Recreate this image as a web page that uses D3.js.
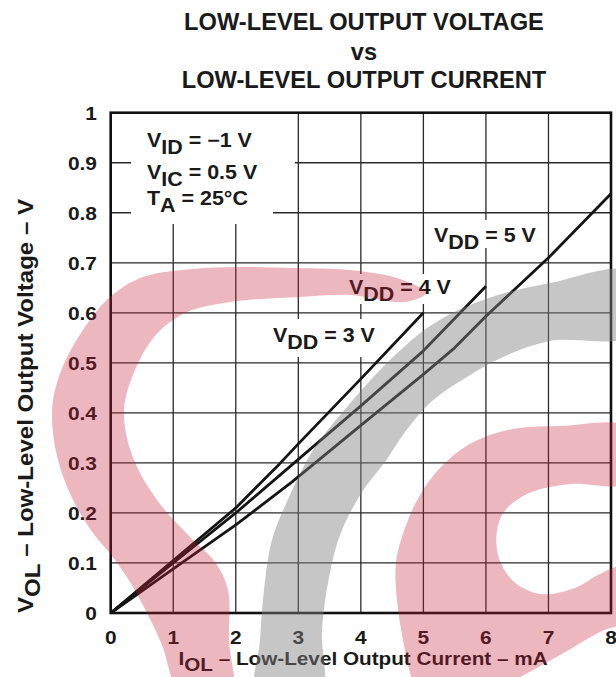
<!DOCTYPE html>
<html>
<head>
<meta charset="utf-8">
<script src="https://cdn.jsdelivr.net/npm/d3@7/dist/d3.min.js"></script>
<style>
  html, body { margin: 0; padding: 0; background: #fff; }
  svg { display: block; }
  text { font-family: "Liberation Sans", Arial, Helvetica, sans-serif; font-weight: bold; fill: #1a1a1a; }
</style>
</head>
<body>
<svg id="chart" width="616" height="677"></svg>
<script>
// ---- data ----
const xTicks = [0, 1, 2, 3, 4, 5, 6, 7, 8];
const yTicks = [0, 0.1, 0.2, 0.3, 0.4, 0.5, 0.6, 0.7, 0.8, 0.9, 1];
const yTickLabels = ["0", "0.1", "0.2", "0.3", "0.4", "0.5", "0.6", "0.7", "0.8", "0.9", "1"];
const seriesNames = ["VDD = 3 V", "VDD = 4 V", "VDD = 5 V"];
const iol3 = [0, 1, 2, 2.7, 3, 4, 5];
const vol3 = [0, 0.105, 0.21, 0.298, 0.338, 0.468, 0.6];
const iol4 = [0, 1, 2, 3, 4, 5, 6];
const vol4 = [0, 0.1, 0.2, 0.307, 0.414, 0.524, 0.653];
const iol5 = [0, 1, 2, 2.9, 4, 5, 5.5, 6, 7, 8];
const vol5 = [0, 0.088, 0.176, 0.262, 0.375, 0.477, 0.53, 0.593, 0.71, 0.838];
const titleLines = ["LOW-LEVEL OUTPUT VOLTAGE", "vs", "LOW-LEVEL OUTPUT CURRENT"];

const svg = d3.select("#chart");
const x = d3.scaleLinear().domain([0, 8]).range([110.7, 611]);
const y = d3.scaleLinear().domain([0, 1]).range([613, 112.7]);

// text helper: parts = [[text, isSub], ...]
function addText(g, px, py, parts, opt) {
  const size = opt.size || 20, sx = opt.sx || 1, rot = opt.rot || 0;
  const t = g.append("text")
    .attr("transform", `translate(${px},${py}) rotate(${rot}) scale(${sx},1)`)
    .attr("text-anchor", opt.anchor || "start")
    .style("font-size", size + "px");
  let sub = false;
  parts.forEach(([s, isSub]) => {
    const ts = t.append("tspan").text(s);
    if (isSub && !sub) ts.attr("dy", opt.subDy || 7);
    if (!isSub && sub) ts.attr("dy", -(opt.subDy || 7));
    sub = isSub;
  });
  return t;
}

// ---- title ----
const titleY = [30, 60, 88];
titleLines.forEach((s, i) => addText(svg, 364, titleY[i], [[s, false]], { size: 23, anchor: "middle", sx: 1.03 }));

// ---- grid ----
const grid = svg.append("g").attr("stroke", "#2a2a2a").attr("stroke-width", 1.3);
grid.selectAll("line.h").data(yTicks.slice(1, -1)).join("line")
  .attr("x1", x(0)).attr("x2", x(8)).attr("y1", d => y(d)).attr("y2", d => y(d));
grid.selectAll("line.v").data(xTicks.slice(1, -1)).join("line")
  .attr("y1", y(0)).attr("y2", y(1)).attr("x1", d => x(d)).attr("x2", d => x(d));

// white label backgrounds (break the grid)
const bg = svg.append("g").attr("fill", "#fff");
bg.append("rect").attr("x", 131).attr("y", 114).attr("width", 164).attr("height", 80);
bg.append("rect").attr("x", 131).attr("y", 190).attr("width", 142).attr("height", 34);
bg.append("rect").attr("x", 430).attr("y", 220).attr("width", 108).attr("height", 28);
bg.append("rect").attr("x", 345).attr("y", 274).attr("width", 106).attr("height", 30);
bg.append("rect").attr("x", 268).attr("y", 319).attr("width", 108).attr("height", 38);

// ---- curves ----
const line = d3.line().x(d => x(d[0])).y(d => y(d[1]));
const curves = [d3.zip(iol3, vol3), d3.zip(iol4, vol4), d3.zip(iol5, vol5)];
svg.append("g").selectAll("path").data(curves).join("path")
  .attr("d", line).attr("fill", "none").attr("stroke", "#151515")
  .attr("stroke-width", 2.8).attr("stroke-linejoin", "round");

// ---- frame ----
svg.append("rect").attr("x", x(0)).attr("y", y(1)).attr("width", x(8) - x(0)).attr("height", y(0) - y(1))
  .attr("fill", "none").attr("stroke", "#111").attr("stroke-width", 2.6);

// ---- tick labels ----
const tl = svg.append("g");
yTicks.forEach((v, i) => addText(tl, 97, y(v) + 7, [[yTickLabels[i], false]], { size: 19, anchor: "end", sx: 1.1 }));
xTicks.forEach(v => addText(tl, x(v), 644, [[String(v), false]], { size: 19, anchor: "middle", sx: 1.1 }));

// ---- axis titles ----
addText(svg, 363, 665, [["I", false], ["OL", true], [" \u2013 Low-Level Output Current \u2013 mA", false]], { size: 18.5, anchor: "middle", sx: 1.12, subDy: 6 });
addText(svg, 33, 406, [["V", false], ["OL", true], [" \u2013 Low-Level Output Voltage \u2013 V", false]], { size: 21.5, anchor: "middle", rot: -90, sx: 1.12 });

// ---- annotations ----
const ann = svg.append("g");
addText(ann, 147, 146.7, [["V", false], ["ID", true], [" = \u22121 V", false]], { size: 19.5, sx: 1.1 });
addText(ann, 147, 179.3, [["V", false], ["IC", true], [" = 0.5 V", false]], { size: 19.5, sx: 1.1 });
addText(ann, 147, 205, [["T", false], ["A", true], [" = 25\u00B0C", false]], { size: 19.5, sx: 1.1 });
const labPos = [[273, 341.7], [349, 294.3], [434, 241.7]];
seriesNames.forEach((s, i) => addText(ann, labPos[i][0], labPos[i][1],
  [["V", false], ["DD", true], [s.slice(3), false]], { size: 19.5, sx: 1.1 }));

// ---- watermark overlay ----
const wm = svg.append("g").attr("pointer-events", "none");
const shape = d3.line().curve(d3.curveCatmullRomClosed.alpha(0.5));
const pinkHook = [[426,293],[400,279],[350,270],[293,268],[237,267],[193,269],[143,277],[110,297],[83,330],[63,366],[53,400],[53,433],[60,467],[73,500],[93,533],[112,556],[130,582],[147,613],[162,645],[178,690],[200,700],[232,700],[229,640],[228,590],[215,562],[190,537],[157,500],[132,455],[124,410],[135,370],[155,336],[185,313],[230,302],[300,297],[350,295],[405,302]];
const grayArc = [[630,272],[550,283],[483,300],[433,324],[390,360],[347,407],[313,450],[290,495],[272,540],[264,590],[260,640],[257,700],[320,700],[322,630],[328,583],[340,535],[362,492],[385,462],[405,432],[432,401],[467,377],[503,357],[550,341],[630,335]];
const pinkC = [[630,428],[560,426],[508,430],[468,445],[440,468],[420,495],[405,528],[396,562],[397,600],[403,640],[412,680],[420,700],[470,700],[520,677],[560,655],[600,632],[630,618],[630,565],[600,574],[575,588],[540,594],[512,580],[497,550],[502,515],[527,494],[570,484],[630,482]];
wm.append("path").attr("d", shape(grayArc)).attr("fill", "rgb(128,128,128)").attr("fill-opacity", 0.45);
wm.append("path").attr("d", shape(pinkHook)).attr("fill", "rgb(200,30,60)").attr("fill-opacity", 0.32);
wm.append("path").attr("d", shape(pinkC)).attr("fill", "rgb(200,30,60)").attr("fill-opacity", 0.32);
</script>
</body>
</html>
